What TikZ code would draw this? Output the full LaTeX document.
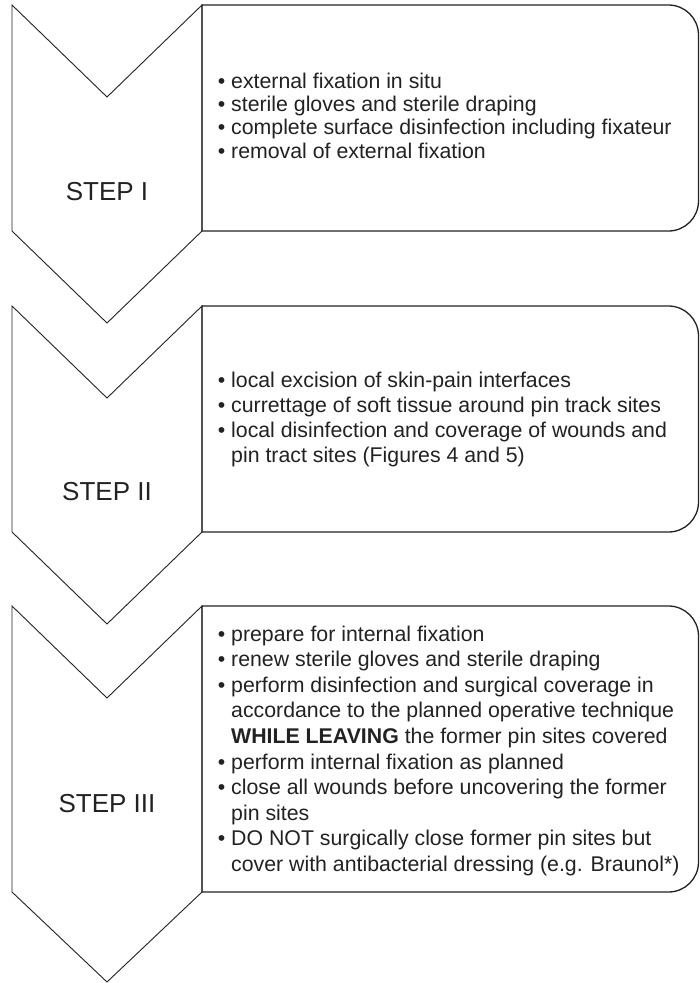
\documentclass[tikz,border=0pt]{standalone}
\usepackage{fontspec}
\setmainfont{Liberation Sans}
\definecolor{ink}{HTML}{222222}
\newcommand{\bul}{\llap{\textbullet\ }}
\begin{document}
\begin{tikzpicture}[x=1pt,y=-1pt,
  chev/.style={draw=ink, line width=0.9pt, line join=miter, fill=white},
  panel/.style={draw=ink, line width=1.3pt},
  steplabel/.style={anchor=base, inner sep=0pt, font=\fontsize{26}{30}\selectfont, text=ink},
  item/.style={anchor=base west, inner sep=0pt, font=\fontsize{21.3}{25}\selectfont, text=ink}]

% page frame
\fill[white] (0,0) rectangle (700,983);
\useasboundingbox (0,0) rectangle (700,983);

% step chevrons
\draw[chev] (12,5) -- (107,97) -- (202,5) -- (202,231) -- (107,323) -- (12,231) -- cycle;
\draw[chev] (12,306) -- (107,398) -- (202,306) -- (202,532) -- (107,624) -- (12,532) -- cycle;
\draw[chev] (12,606) -- (107,698) -- (202,606) -- (202,892) -- (107,982) -- (12,892) -- cycle;

% text panels, rounded on the right side
\draw[panel] (202,231) -- (202,5) -- (668.5,5) arc[start angle=90, end angle=0, radius=30pt]
  -- (698.5,201) arc[start angle=0, end angle=-90, radius=30pt] -- cycle;
\draw[panel] (202,532) -- (202,306) -- (668.5,306) arc[start angle=90, end angle=0, radius=30pt]
  -- (698.5,502) arc[start angle=0, end angle=-90, radius=30pt] -- cycle;
\draw[panel] (202,892) -- (202,606) -- (668.5,606) arc[start angle=90, end angle=0, radius=30pt]
  -- (698.5,862) arc[start angle=0, end angle=-90, radius=30pt] -- cycle;

% step labels
\node[steplabel] (s1) at (107,200) {STEP I};
\node[steplabel] (s2) at (107,500) {STEP II};
\node[steplabel] (s3) at (107,812) {STEP III};

% step I
\node[item] (a1) at (231,88)    {\bul external fixation in situ};
\node[item] (a2) at (231,111.3) {\bul sterile gloves and sterile draping};
\node[item] (a3) at (231,134.7) {\bul complete surface disinfection including fixateur};
\node[item] (a4) at (231,158)   {\bul removal of external fixation};

% step II
\node[item] (b1) at (231,387) {\bul local excision of skin-pain interfaces};
\node[item] (b2) at (231,412) {\bul currettage of soft tissue around pin track sites};
\node[item] (b3) at (231,437) {\bul local disinfection and coverage of wounds and};
\node[item] (b4) at (231,462) {pin tract sites (Figures 4 and 5)};

% step III
\node[item] (c1)  at (231,641)   {\bul prepare for internal fixation};
\node[item] (c2)  at (231,666.6) {\bul renew sterile gloves and sterile draping};
\node[item] (c3)  at (231,692.2) {\bul perform disinfection and surgical coverage in};
\node[item] (c4)  at (231,717.8) {accordance to the planned operative technique};
\node[item] (c5)  at (231,743.4) {\textbf{WHILE LEAVING} the former pin sites covered};
\node[item] (c6)  at (231,769)   {\bul perform internal fixation as planned};
\node[item] (c7)  at (231,794.6) {\bul close all wounds before uncovering the former};
\node[item] (c8)  at (231,820.2) {pin sites};
\node[item] (c9)  at (231,845.8) {\bul DO NOT surgically close former pin sites but};
\node[item] (c10) at (231,871.4) {cover with antibacterial dressing (e.g. Braunol*)};
\end{tikzpicture}
\end{document}
